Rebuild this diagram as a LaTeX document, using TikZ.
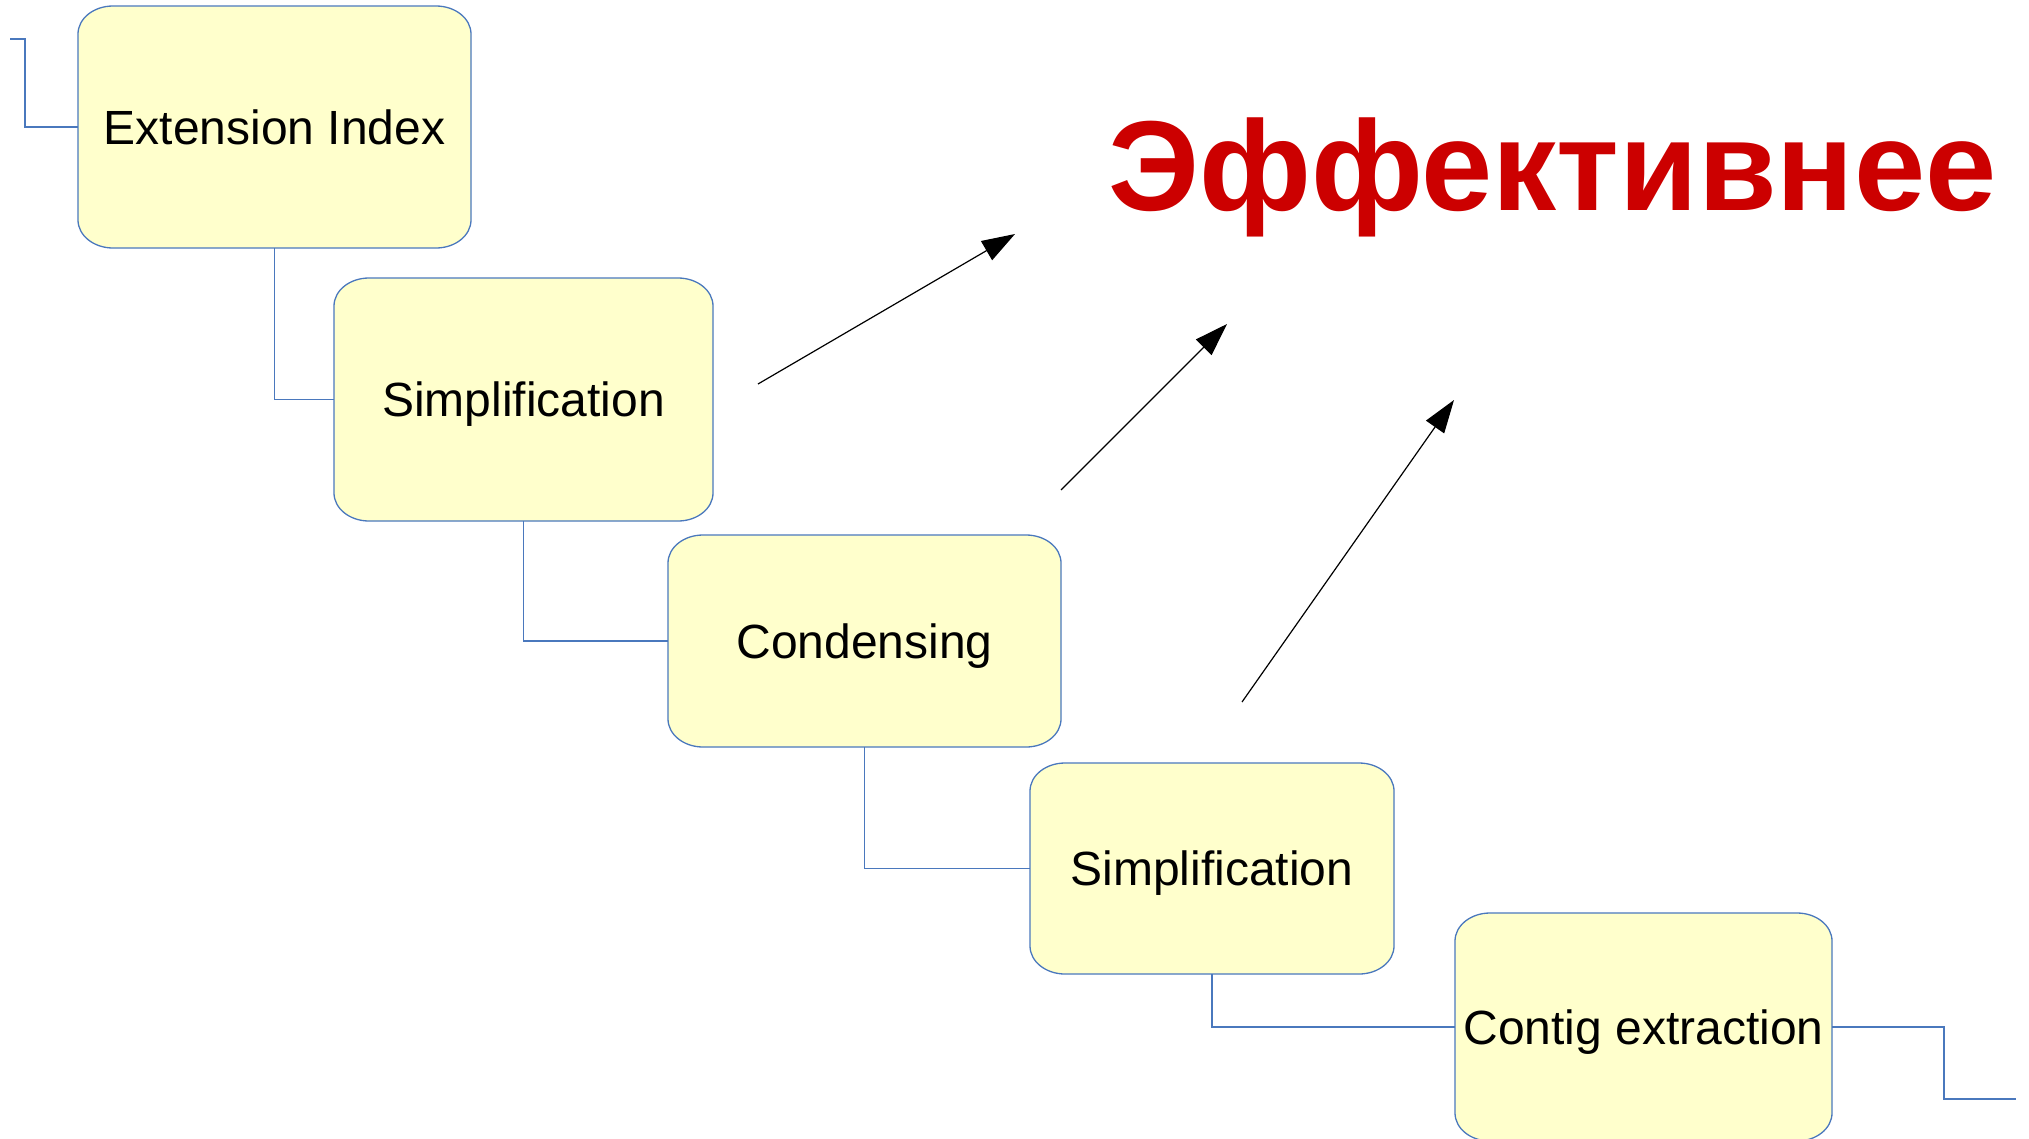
\documentclass[tikz,border=0pt]{standalone}
\usepackage{fontspec}
\setmainfont{Liberation Sans}
\usetikzlibrary{arrows.meta,backgrounds}

\definecolor{boxfill}{HTML}{FFFFCC}
\definecolor{linkblue}{HTML}{4A78BD}
\definecolor{titlered}{HTML}{CC0000}

% rounded box with elliptical corners drawn behind a named node
\newcommand\ellbox[1]{%
  \fill[boxfill] ([xshift=35pt]#1.north west) -- ([xshift=-35pt]#1.north east)
    arc[start angle=90,end angle=0,x radius=35pt,y radius=28pt]
    -- ([yshift=28pt]#1.south east)
    arc[start angle=0,end angle=-90,x radius=35pt,y radius=28pt]
    -- ([xshift=35pt]#1.south west)
    arc[start angle=270,end angle=180,x radius=35pt,y radius=28pt]
    -- ([yshift=-28pt]#1.north west)
    arc[start angle=180,end angle=90,x radius=35pt,y radius=28pt] -- cycle;
  \draw[boxline] ([xshift=35pt]#1.north west) -- ([xshift=-35pt]#1.north east)
    arc[start angle=90,end angle=0,x radius=35pt,y radius=28pt]
    -- ([yshift=28pt]#1.south east)
    arc[start angle=0,end angle=-90,x radius=35pt,y radius=28pt]
    -- ([xshift=35pt]#1.south west)
    arc[start angle=270,end angle=180,x radius=35pt,y radius=28pt]
    -- ([yshift=-28pt]#1.north west)
    arc[start angle=180,end angle=90,x radius=35pt,y radius=28pt] -- cycle;}

\tikzset{
  boxline/.style={draw=linkblue, line width=1.3pt},
  procbox/.style={rectangle, inner sep=0pt, outer sep=0pt,
    font=\fontsize{48}{56}\selectfont, text height=44.6pt, text depth=10pt},
  link/.style={draw=linkblue, line width=1.3pt},
  gain/.style={draw=black, line width=1.2pt, -{Triangle[length=33pt,width=22pt]}},
}

\begin{document}
\begin{tikzpicture}[x=1pt,y=-1pt]
  \useasboundingbox (0,0) rectangle (2029,1138);

  % process stages
  \node[procbox, minimum width=393pt, minimum height=242pt] (ext)  at (274.5,127)  {Extension Index};
  \node[procbox, minimum width=379pt, minimum height=243pt] (simp1) at (523.5,399.5) {Simplification};
  \node[procbox, minimum width=393pt, minimum height=212pt] (cond) at (864.5,641)  {Condensing};
  \node[procbox, minimum width=364pt, minimum height=211pt] (simp2) at (1212,868.5) {Simplification};
  \node[procbox, minimum width=377pt, minimum height=228pt] (contig) at (1643.5,1027) {Contig extraction};

  \begin{scope}[on background layer]
    \ellbox{ext}
    \ellbox{simp1}
    \ellbox{cond}
    \ellbox{simp2}
    \ellbox{contig}
  \end{scope}

  % incoming and outgoing ends of the chain
  \coordinate (in0) at (10,39);
  \coordinate (in1) at (25,39);
  \coordinate (out1) at (1944,1099);
  \coordinate (out0) at (2016,1099);

  % links between stages
  \draw[link] (in0) -- (in1) |- (ext.west);
  \draw[link] (ext.south) |- (simp1.west);
  \draw[link] (simp1.south) |- (cond.west);
  \draw[link] (cond.south) |- (simp2.west);
  \draw[link] (simp2.south) |- (contig.west);
  \draw[link] (contig.east) -| (out1) -- (out0);

  % headline
  \node[anchor=base west, inner sep=0pt, text=titlered,
        font=\bfseries\fontsize{128}{150}\selectfont] (title) at (1108,210) {Эффективнее};

  % arrows pointing towards the headline
  \coordinate (a1s) at (758,384);  \coordinate (a1e) at (1015,234);
  \coordinate (a2s) at (1061,490); \coordinate (a2e) at (1227,324);
  \coordinate (a3s) at (1242,702); \coordinate (a3e) at (1454,400);
  \draw[gain] (a1s) -- (a1e);
  \draw[gain] (a2s) -- (a2e);
  \draw[gain] (a3s) -- (a3e);
\end{tikzpicture}
\end{document}
